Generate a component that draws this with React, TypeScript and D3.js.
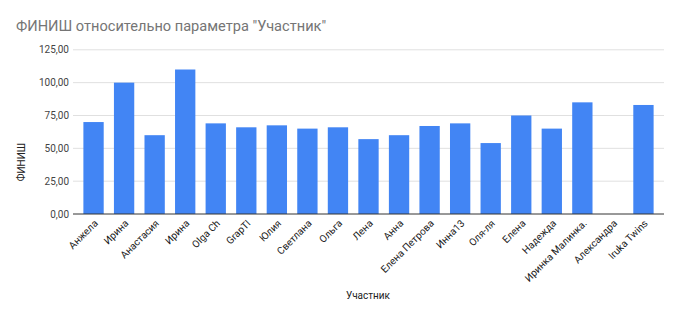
import React from "react";
import * as d3 from "d3";

const categories = ["Анжела","Ирина","Анастасия","Ирина","Olga Ch","GrapTI","Юлия","Светлана","Ольга","Лена","Анна","Елена Петрова","Инна13","Оля-ля","Елена","Надежда","Иринка Малинка.","Александра","Iruka Twins"];
const values = [70,100,60,110,69,66,67.5,65,66,57,60,67,69,54,75,65,85,0,83];
const yTicks = [0,25,50,75,100,125];
const title = 'ФИНИШ относительно параметра "Участник"';
const xTitle = "Участник";
const yTitle = "ФИНИШ";

export default function App() {
  const W = 680, H = 317;
  const left = 73, right = 664, top = 49.8, bottom = 214;
  const x = d3.scaleBand<number>().domain(d3.range(categories.length)).range([left, right]).paddingInner(0.335).paddingOuter(0.34);
  const y = d3.scaleLinear().domain([0, 125]).range([bottom, top]);
  const fmt = (v: number) => d3.format(".2f")(v).replace(".", ",");
  const font = "Roboto, Arial, sans-serif";
  return (
    <svg width={W} height={H} style={{ position: "absolute", left: 0, top: 0, fontFamily: font }}>
      <rect width={W} height={H} fill="#fff" />
      <text x={16} y={31} fontSize={14.6} fill="#757575">{title}</text>
      {yTicks.map(t => (
        <g key={t}>
          {t > 0 && <line x1={left} x2={right} y1={y(t)} y2={y(t)} stroke="#e0e0e0" strokeWidth={1} />}
          <text x={69} y={y(t) + 3.5} fontSize={10} textAnchor="end" fill="#444">{fmt(t)}</text>
        </g>
      ))}
      {values.map((v, i) => (
        <rect key={i} x={x(i)} width={x.bandwidth()} y={y(v)} height={y(0) - y(v)} fill="#4285f4" />
      ))}
      <line x1={left} x2={right} y1={y(0)} y2={y(0)} stroke="#333" strokeWidth={1} />
      {categories.map((c, i) => {
        const cx = (x(i) as number) + x.bandwidth() / 2;
        return (
          <text key={i} transform={`translate(${cx + 5},${224}) rotate(-45)`} fontSize={10} textAnchor="end" fill="#222">{c}</text>
        );
      })}
      <text x={368} y={299} fontSize={10} textAnchor="middle" fill="#222">{xTitle}</text>
      <text transform={`translate(25,162) rotate(-90)`} fontSize={10} textAnchor="middle" fill="#222">{yTitle}</text>
    </svg>
  );
}
